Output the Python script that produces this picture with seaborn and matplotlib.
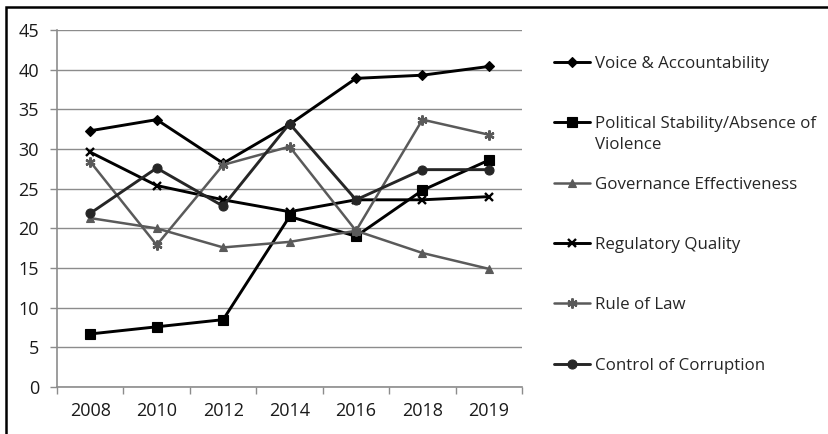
import pandas as pd
import matplotlib.pyplot as plt
import matplotlib.patches as patches
import seaborn as sns
import numpy as np

# data
years = ['2008', '2010', '2012', '2014', '2016', '2018', '2019']
voice = [32.3, 33.7, 28.2, 33.1, 38.9, 39.3, 40.4]
pol_stab = [6.7, 7.6, 8.5, 21.5, 19.0, 24.8, 28.6]
gov_eff = [21.3, 20.0, 17.6, 18.3, 19.7, 16.9, 14.9]
reg_quality = [29.6, 25.4, 23.6, 22.1, 23.6, 23.6, 24.0]
rule_law = [28.4, 17.9, 28.0, 30.3, 19.7, 33.7, 31.8]
corruption = [21.9, 27.6, 22.8, 33.2, 23.6, 27.4, 27.4]

series = [
    ('Voice & Accountability', voice),
    ('Political Stability/Absence of', pol_stab),
    ('Governance Effectiveness', gov_eff),
    ('Regulatory Quality', reg_quality),
    ('Rule of Law', rule_law),
    ('Control of Corruption', corruption),
]

rows = []
for name, vals in series:
    for yr, v in zip(years, vals):
        rows.append({'Year': yr, 'Score': v, 'Indicator': name})
df = pd.DataFrame(rows)

sns.set_theme(style="white")
plt.rcParams['font.family'] = ['Open Sans', 'DejaVu Sans']

# colour, marker, marker size, line width per series
styles = [
    ('black', 'D', 8, 2.1),
    ('black', 's', 10, 2.1),
    ('#5a5a5a', '^', 9, 1.8),
    ('black', 'x', 8.5, 2.1),
    ('#5a5a5a', (6, 2, 0), 11, 1.8),
    ('#262626', 'o', 10, 2.1),
]

fig = plt.figure(figsize=(8.29, 4.34), dpi=100)
ax = fig.add_axes([0.0688, 0.108, 0.561, 0.823])

for (name, _), (col, mk, ms, lw) in zip(series, styles):
    sub = df[df['Indicator'] == name]
    sns.lineplot(data=sub, x='Year', y='Score', color=col, marker=mk,
                 markersize=ms, linewidth=lw, markeredgecolor=col,
                 markeredgewidth=1.7 if mk in ('x', (6, 2, 0)) else 0.8,
                 sort=False, label=name, ax=ax, legend=False)

ax.set_xlim(-0.5, len(years) - 0.5)
ax.set_ylim(0, 45)
ax.set_yticks(np.arange(0, 46, 5))
ax.yaxis.grid(True, color='#8c8c8c', linewidth=1.0)
ax.set_axisbelow(True)
ax.set_xlabel('')
ax.set_ylabel('')

# ticks between categories like the original
ax.set_xticks(np.arange(-0.5, len(years)), minor=True)
ax.tick_params(axis='x', which='major', length=0, pad=11, labelsize=13, colors='#1a1a1a')
ax.tick_params(axis='x', which='minor', length=5, width=1, color='#8c8c8c', direction='out', bottom=True)
ax.tick_params(axis='y', length=5, width=1, color='#8c8c8c', direction='out', left=True,
               labelsize=13, pad=8, colors='#1a1a1a')

for side in ['top', 'right']:
    ax.spines[side].set_visible(False)
for side in ['left', 'bottom']:
    ax.spines[side].set_color('#8c8c8c')
    ax.spines[side].set_linewidth(1.2)

handles, labels = ax.get_legend_handles_labels()
for h in handles:
    h.set_markersize(h.get_markersize() * 0.65)
fig.legend(handles, labels, loc='upper left', bbox_to_anchor=(0.660, 0.887),
           frameon=False, fontsize=12.2, handlelength=2.15, handletextpad=0.25,
           labelspacing=2.62, borderaxespad=0)
# second line of the wrapped legend label
fig.text(595 / 829, 1 - 145 / 434, 'Violence', fontsize=12.2, va='center', ha='left')

# outer chart border (cropped at right and bottom)
fig.patches.append(patches.Rectangle((6 / 829, -0.2), 1.2, (434 - 7) / 434 + 0.2,
                                     transform=fig.transFigure, fill=False,
                                     edgecolor='black', linewidth=1.8))

plt.savefig('out.png', dpi=100)
